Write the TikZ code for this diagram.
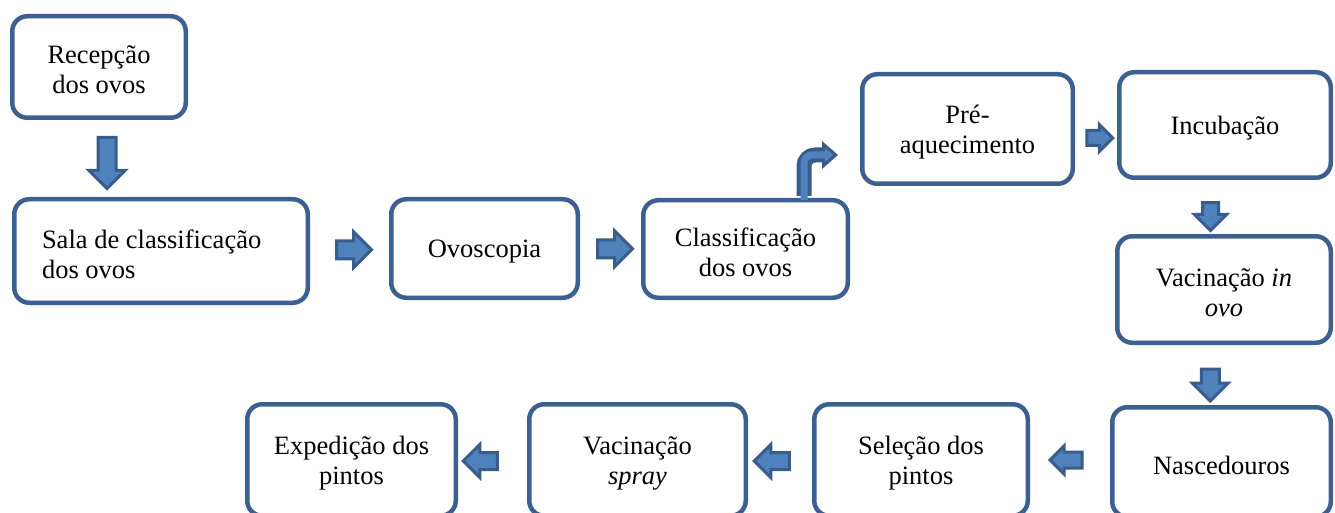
\documentclass[tikz,border=0pt]{standalone}
\usepackage{fontspec}
\setmainfont{Liberation Serif}
\usetikzlibrary{shapes.arrows,calc}
\definecolor{boxblue}{HTML}{3C6090}
\definecolor{arrdark}{HTML}{385D8A}
\definecolor{arrlight}{HTML}{4F81BD}
\tikzset{
  stepbox/.style={draw=boxblue, line width=4.5pt, rounded corners=15pt, fill=white, inner sep=0pt},
  textlab/.style={align=center, inner sep=0pt, yshift=-3pt, font=\fontsize{26.5}{30}\selectfont},
  blockarrow/.style={single arrow, draw=arrdark, fill=arrlight, line width=3pt,
    single arrow head extend=9pt, inner xsep=0pt, inner ysep=7.5pt, single arrow tip angle=90,
    minimum height=#1, minimum width=33pt},
}
\begin{document}
\begin{tikzpicture}[x=1pt,y=-1pt]
\useasboundingbox (0,0) rectangle (1335,513);
% boxes
\node[stepbox, minimum width=173.5pt, minimum height=101.5pt] (rec) at (99,67) {};
\node[stepbox, minimum width=293.5pt, minimum height=103.5pt] (sala) at (161,251) {};
\node[stepbox, minimum width=186.5pt, minimum height=98.5pt] (ovo) at (484.5,248.5) {};
\node[stepbox, minimum width=204.5pt, minimum height=97.5pt] (cla) at (745.5,249) {};
\node[stepbox, minimum width=210.5pt, minimum height=109.5pt] (pre) at (967.5,129) {};
\node[stepbox, minimum width=211.5pt, minimum height=105.5pt] (inc) at (1225,125) {};
\node[stepbox, minimum width=213.5pt, minimum height=106.5pt] (vac) at (1224,289.5) {};
\node[stepbox, minimum width=218.5pt, minimum height=109.5pt] (nas) at (1221.5,462) {};
\node[stepbox, minimum width=213.5pt, minimum height=111.5pt] (sel) at (921,460) {};
\node[stepbox, minimum width=216.5pt, minimum height=111.5pt] (spr) at (637.5,460) {};
\node[stepbox, minimum width=208.5pt, minimum height=111.5pt] (exp) at (351.5,460) {};
% texts
\node[textlab] (rec-t) at (rec.center) {Recepção\\dos ovos};
\node[textlab, text width=238pt, align=flush left] (sala-t) at (sala.center) {Sala de classificação\\dos ovos};
\node[textlab] (ovo-t) at (ovo.center) {Ovoscopia};
\node[textlab] (cla-t) at (cla.center) {Classificação\\dos ovos};
\node[textlab] (pre-t) at (pre.center) {Pré-\\aquecimento};
\node[textlab] (inc-t) at (inc.center) {Incubação};
\node[textlab] (vac-t) at (vac.center) {Vacinação \textit{in}\\\textit{ovo}};
\node[textlab] (nas-t) at (nas.center) {Nascedouros};
\node[textlab] (sel-t) at (sel.center) {Seleção dos\\pintos};
\node[textlab] (spr-t) at (spr.center) {Vacinação\\\textit{spray}};
\node[textlab] (exp-t) at (exp.center) {Expedição dos\\pintos};
% block arrows
\node[blockarrow=51pt, rotate=-90] (a1) at ([xshift=8pt]$(rec.south)!0.5!(rec.south|-sala.north)$) {};
\node[blockarrow=35pt] (a2) at ($(sala.east)!0.5!(ovo.west)$) {};
\node[blockarrow=35pt] (a3) at ($(ovo.east)!0.5!(cla.west)$) {};
\node[blockarrow=26pt, minimum width=26pt, single arrow head extend=6pt, inner ysep=6pt] (a4) at ([yshift=-11pt]$(pre.east)!0.5!(inc.west)$) {};
\node[blockarrow=28pt, minimum width=31pt, single arrow head extend=8pt, inner ysep=6.5pt, rotate=-90] (a5) at ([xshift=-14pt,yshift=-5.5pt]$(inc.south)!0.5!(vac.north)$) {};
\node[blockarrow=32pt, minimum width=34pt, rotate=-90] (a6) at ([xshift=-12.5pt,yshift=-5.5pt]$(vac.south)!0.5!(nas.north)$) {};
\node[blockarrow=32pt, minimum width=26pt, single arrow head extend=6pt, inner ysep=6.5pt, rotate=180] (a7) at ([yshift=1pt]$(nas.west)!0.5!(sel.east)$) {};
\node[blockarrow=35pt, minimum width=30pt, single arrow head extend=8pt, inner ysep=7pt, rotate=180] (a8) at ([xshift=-4pt,yshift=-1pt]$(sel.west)!0.5!(spr.east)$) {};
\node[blockarrow=34pt, minimum width=30pt, single arrow head extend=8pt, inner ysep=7pt, rotate=180] (a9) at ([xshift=-8pt,yshift=-1pt]$(spr.west)!0.5!(exp.east)$) {};
% bent arrow from Classificação to Pré-aquecimento
\coordinate (bstart) at ([xshift=58.5pt,yshift=2pt]cla.north);
\coordinate (btip) at ([xshift=-22pt]pre.west|-0,155);
\draw[arrdark, line width=15pt, rounded corners=11pt] (bstart) -- (bstart|-btip) -- ([xshift=-14pt]btip);
\fill[arrdark] ([xshift=-16pt,yshift=-14pt]btip) -- (btip) -- ([xshift=-16pt,yshift=14pt]btip) -- cycle;
\draw[arrlight, line width=7pt, rounded corners=8pt] ([yshift=-4pt]bstart) -- (bstart|-btip) -- ([xshift=-12pt]btip);
\fill[arrlight] ([xshift=-13pt,yshift=-7pt]btip) -- ([xshift=-5pt]btip) -- ([xshift=-13pt,yshift=7pt]btip) -- cycle;
\end{tikzpicture}
\end{document}
